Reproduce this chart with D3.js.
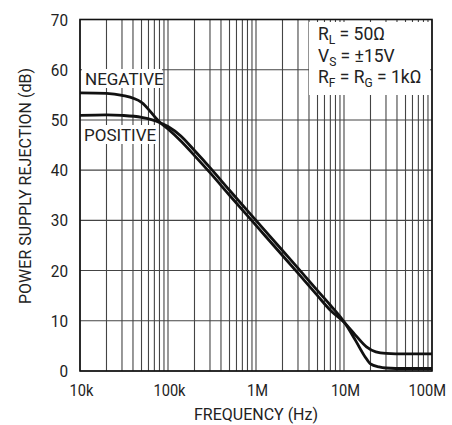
<!DOCTYPE html>
<html>
<head>
<meta charset="utf-8">
<script src="https://cdn.jsdelivr.net/npm/d3@7"></script>
<style>
body { margin: 0; background: #fff; }
text { font-family: "Liberation Sans Narrow", "Roboto", sans-serif; fill: #222; }
</style>
</head>
<body>
<div id="chart"></div>
<script>
// frequencies (Hz) and rejection (dB)
var negFreq = [1e4, 2e4, 3e4, 5e4, 8e4, 1e5, 1.4e5, 2e5, 3e5, 5e5, 1e6, 2e6, 3e6, 5e6, 7e6, 1e7, 1.34e7, 1.8e7, 2.3e7, 3e7, 5e7, 1e8];
var negDb   = [55.4, 55.3, 54.9, 53.5, 49.6, 48.2, 45.8, 42.9, 39.5, 35, 29, 23, 19.5, 15, 12.1, 9.7, 7.2, 4.8, 3.8, 3.5, 3.4, 3.4];
var posFreq = [1e4, 2e4, 3e4, 5e4, 8e4, 1e5, 1.4e5, 2e5, 3e5, 5e5, 1e6, 2e6, 3e6, 5e6, 7e6, 1e7, 1.34e7, 1.74e7, 2e7, 2.5e7, 3e7, 5e7, 1e8];
var posDb   = [50.9, 51, 50.9, 50.5, 49.5, 48.7, 46.8, 43.9, 40.5, 36, 30, 24, 20.5, 16, 13.1, 9.8, 6.2, 2.8, 1.4, 0.8, 0.6, 0.5, 0.5];
var xTicks  = [1e4, 1e5, 1e6, 1e7, 1e8];
var xTickLabels = ["10k", "100k", "1M", "10M", "100M"];
var yTicks  = [0, 10, 20, 30, 40, 50, 60, 70];

var W = 452, H = 425;
var m = {left: 80, right: 20, top: 19.5, bottom: 54};
var svg = d3.select("#chart").append("svg").attr("width", W).attr("height", H);

var x = d3.scaleLog().domain([1e4, 1e8]).range([m.left, W - m.right]);
var y = d3.scaleLinear().domain([0, 70]).range([H - m.bottom, m.top]);

// grid: 1..9 per decade
var minor = [];
for (var d = 1e4; d < 1e8; d *= 10)
	for (var k = 2; k <= 9; k++) minor.push(d * k);
svg.append("g").selectAll("line").data(minor.concat(xTicks)).enter().append("line")
	.attr("x1", function(v) { return x(v); }).attr("x2", function(v) { return x(v); })
	.attr("y1", y(0)).attr("y2", y(70))
	.attr("stroke", "#444").attr("stroke-width", 1.1);
svg.append("g").selectAll("line").data(yTicks).enter().append("line")
	.attr("x1", x(1e4)).attr("x2", x(1e8))
	.attr("y1", function(v) { return y(v); }).attr("y2", function(v) { return y(v); })
	.attr("stroke", "#444").attr("stroke-width", 1.1);

// white boxes behind labels
svg.append("rect").attr("x", 309).attr("y", 22).attr("width", 121).attr("height", 73).attr("fill", "#fff");
svg.append("rect").attr("x", 82).attr("y", 69).attr("width", 80).attr("height", 19).attr("fill", "#fff");
svg.append("rect").attr("x", 82).attr("y", 125).attr("width", 74).attr("height", 19).attr("fill", "#fff");

// frame
svg.append("rect").attr("x", x(1e4)).attr("y", y(70))
	.attr("width", x(1e8) - x(1e4)).attr("height", y(0) - y(70))
	.attr("fill", "none").attr("stroke", "#111").attr("stroke-width", 1.6);

// curves
var line = d3.line().curve(d3.curveMonotoneX)
	.x(function(p) { return x(p[0]); }).y(function(p) { return y(p[1]); });
svg.append("path").datum(d3.zip(negFreq, negDb)).attr("d", line)
	.attr("fill", "none").attr("stroke", "#111").attr("stroke-width", 2.8);
svg.append("path").datum(d3.zip(posFreq, posDb)).attr("d", line)
	.attr("fill", "none").attr("stroke", "#111").attr("stroke-width", 2.8);

// squeeze a text horizontally (reference uses a condensed face)
function narrow(sel, f) {
	sel.each(function() {
		var w = this.getComputedTextLength();
		d3.select(this).attr("textLength", w * f).attr("lengthAdjust", "spacingAndGlyphs");
	});
}

// tick labels
var yl = svg.append("g").selectAll("text").data(yTicks).enter().append("text")
	.attr("x", 68).attr("y", function(v) { return y(v) + 6; })
	.attr("text-anchor", "end").style("font-size", "17px")
	.text(function(v) { return v; });
narrow(yl, 0.9);
var xl = svg.append("g").selectAll("text").data(xTicks).enter().append("text")
	.attr("x", function(v, i) { return i == 4 ? 446 : x(v) + 1.5; }).attr("y", 396)
	.attr("text-anchor", function(v, i) { return i == 4 ? "end" : "middle"; })
	.style("font-size", "17px")
	.text(function(v, i) { return xTickLabels[i]; });
narrow(xl, 0.86);

// axis titles
svg.append("text").attr("x", 256).attr("y", 420)
	.attr("text-anchor", "middle").style("font-size", "16px")
	.text("FREQUENCY (Hz)");
svg.append("text").attr("transform", "translate(31,186) rotate(-90)")
	.attr("text-anchor", "middle").style("font-size", "16px")
	.text("POWER SUPPLY REJECTION (dB)");

// curve labels
svg.append("text").attr("x", 85).attr("y", 85).style("font-size", "17px").text("NEGATIVE");
svg.append("text").attr("x", 84).attr("y", 141).style("font-size", "17px").text("POSITIVE");

// conditions
var cond = svg.append("g").style("font-size", "17.5px");
var t1 = cond.append("text").attr("x", 318).attr("y", 40);
t1.append("tspan").text("R");
t1.append("tspan").attr("dy", 4).style("font-size", "12px").text("L");
t1.append("tspan").attr("dy", -4).text(" = 50\u03A9");
var t2 = cond.append("text").attr("x", 318).attr("y", 61.5);
t2.append("tspan").text("V");
t2.append("tspan").attr("dy", 4).style("font-size", "12px").text("S");
t2.append("tspan").attr("dy", -4).text(" = \u00B115V");
var t3 = cond.append("text").attr("x", 318).attr("y", 83);
t3.append("tspan").text("R");
t3.append("tspan").attr("dy", 4).style("font-size", "12px").text("F");
t3.append("tspan").attr("dy", -4).text(" = R");
t3.append("tspan").attr("dy", 4).style("font-size", "12px").text("G");
t3.append("tspan").attr("dy", -4).text(" = 1k\u03A9");
</script>
</body>
</html>
